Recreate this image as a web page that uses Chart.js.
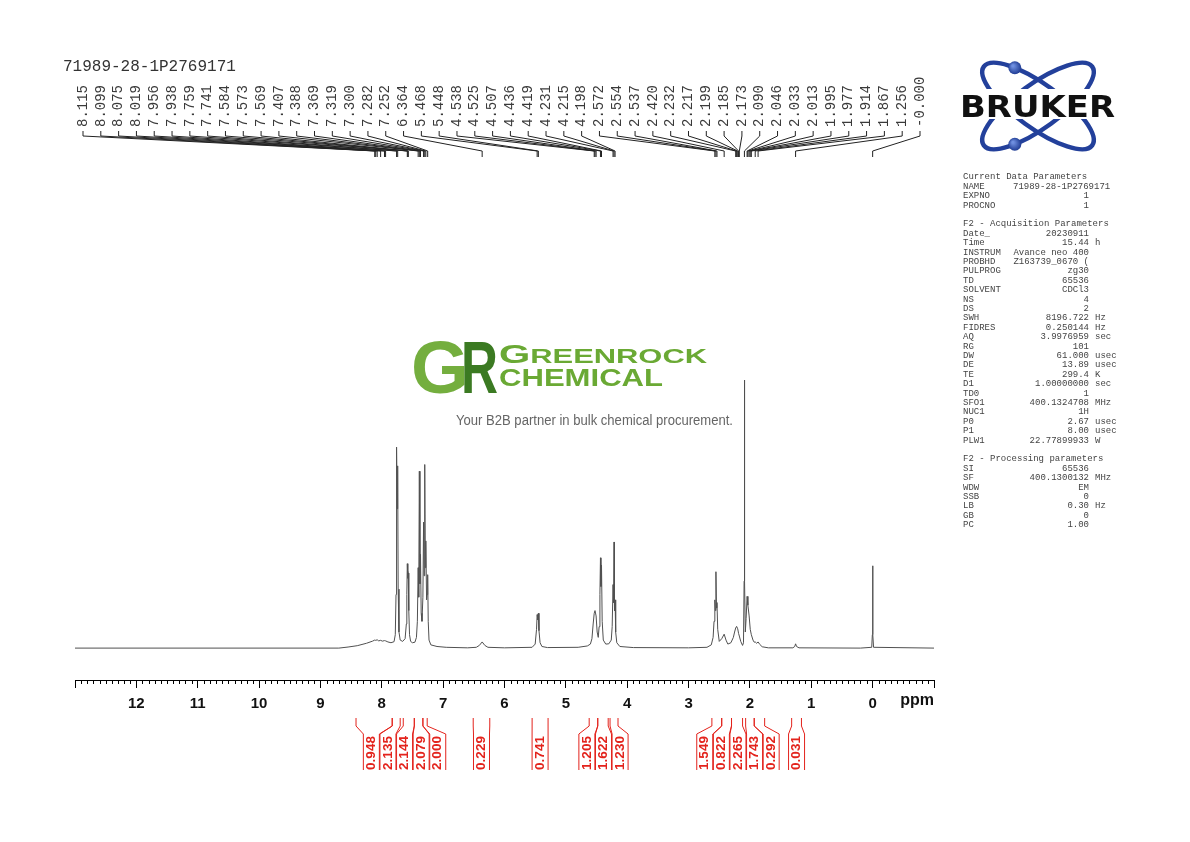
<!DOCTYPE html>
<html>
<head>
<meta charset="utf-8">
<script src="https://cdn.jsdelivr.net/npm/chart.js@4.4.1/dist/chart.umd.min.js"></script>
<style>
  html, body { margin: 0; padding: 0; background: #fff; }
  canvas { display: block; }
</style>
</head>
<body>
<canvas id="nmr" width="1190" height="842"></canvas>
<script>
const sampleName = '71989-28-1P2769171';

// spectrum trace: ppm / relative intensity (2.090 singlet = 100)
const specPpm = [13.0, 8.70, 8.55, 8.40, 8.25, 8.15, 8.115, 8.099, 8.075, 8.05, 8.019, 7.99, 7.956, 7.938, 7.90, 7.85, 7.80,
  7.78, 7.768, 7.759, 7.750, 7.741, 7.733, 7.72, 7.70, 7.66,
  7.62, 7.60, 7.592, 7.584, 7.578, 7.573, 7.569, 7.56, 7.548, 7.53, 7.50, 7.46,
  7.435, 7.42, 7.407, 7.398, 7.388, 7.378, 7.369, 7.358, 7.345, 7.33, 7.319, 7.310, 7.300, 7.291, 7.282, 7.27, 7.262, 7.252, 7.243, 7.23, 7.20, 7.10, 6.95,
  6.60, 6.46, 6.41, 6.364, 6.32, 6.27, 6.00,
  5.55, 5.50, 5.478, 5.468, 5.458, 5.448, 5.438, 5.42, 5.39, 5.30,
  4.80, 4.65, 4.60, 4.575, 4.555, 4.538, 4.525, 4.507, 4.49, 4.472, 4.458, 4.445, 4.436, 4.428, 4.419, 4.408, 4.39, 4.35,
  4.30, 4.26, 4.245, 4.231, 4.223, 4.215, 4.207, 4.198, 4.188, 4.17, 4.12, 3.90, 3.00,
  2.70, 2.63, 2.60, 2.585, 2.572, 2.563, 2.554, 2.545, 2.537, 2.525, 2.50, 2.46, 2.42, 2.39, 2.36,
  2.31, 2.27, 2.25, 2.232, 2.217, 2.199, 2.185, 2.173, 2.15, 2.12, 2.105, 2.095, 2.090, 2.085, 2.075,
  2.062, 2.046, 2.033, 2.013, 1.995, 1.977, 1.95, 1.93, 1.914, 1.89, 1.867, 1.84, 1.80, 1.70,
  1.30, 1.27, 1.256, 1.24, 1.20, 0.20, 0.015, 0.005, 0.000, -0.005, -0.015, -1.0];
const specInt = [0, 0, 0.4, 0.9, 1.8, 2.6, 3.0, 2.9, 3.1, 2.7, 2.9, 2.6, 2.8, 2.7, 2.3, 2.0, 2.4,
  5, 20, 75, 52, 68, 22, 6, 3, 2.5,
  3.5, 9, 20, 31.5, 26, 29, 28, 14, 5, 2.5, 2, 2.2,
  4, 10, 30, 19, 66, 24, 35, 13, 10, 19, 47, 27, 68.5, 30, 40, 18, 20, 27.4, 10, 3, 1.2, 0.6, 0.3,
  0.1, 0.3, 1.0, 2.3, 1.0, 0.3, 0.1,
  0.3, 1.5, 7, 12.5, 10.5, 13, 6.5, 2, 0.6, 0.2,
  0.3, 0.8, 1.5, 3.5, 9, 13, 14, 12, 6, 4, 8, 20, 33.7, 23, 31, 10, 3, 1.5,
  1.6, 3, 8, 23.7, 17, 39.6, 14, 18, 6, 2, 0.6, 0.2, 0.1,
  0.3, 1.2, 4, 10, 18, 14, 28.5, 15, 17, 7, 2.5, 3.5, 5.2, 3, 1.5,
  2, 4, 6, 7.5, 8.1, 7.2, 5.5, 4.5, 2.5, 1, 2, 25, 100, 25, 6,
  11, 19.3, 16, 12, 7, 5, 3, 2.2, 2.3, 1.8, 2.3, 1.4, 0.5, 0.1,
  0.1, 0.6, 1.6, 0.6, 0.1, 0, 0.3, 5, 30.7, 5, 0.3, 0];

// peak picking
const peakLabels = ['8.115', '8.099', '8.075', '8.019', '7.956', '7.938', '7.759', '7.741', '7.584', '7.573', '7.569',
  '7.407', '7.388', '7.369', '7.319', '7.300', '7.282', '7.252', '6.364', '5.468', '5.448', '4.538', '4.525', '4.507',
  '4.436', '4.419', '4.231', '4.215', '4.198', '2.572', '2.554', '2.537', '2.420', '2.232', '2.217', '2.199', '2.185',
  '2.173', '2.090', '2.046', '2.033', '2.013', '1.995', '1.977', '1.914', '1.867', '1.256', '-0.000'];

// integrals
const intFrom = [8.42, 7.83, 7.65, 7.47, 7.33, 6.51, 5.55, 4.62, 4.48, 4.28, 2.62, 2.46, 2.30, 2.07, 1.93, 1.32];
const intTo   = [7.83, 7.70, 7.47, 7.33, 7.26, 6.24, 5.29, 4.48, 4.31, 4.15, 2.46, 2.30, 2.12, 1.93, 1.76, 1.16];
const intVal  = ['0.948', '2.135', '2.144', '2.079', '2.000', '0.229', '0.741', '1.205', '1.622', '1.230',
  '1.549', '0.822', '2.265', '1.743', '0.292', '0.031'];

// acquisition / processing parameters
const paramNames = ['Current Data Parameters', 'NAME', 'EXPNO', 'PROCNO', '',
  'F2 - Acquisition Parameters', 'Date_', 'Time', 'INSTRUM', 'PROBHD', 'PULPROG', 'TD', 'SOLVENT', 'NS', 'DS',
  'SWH', 'FIDRES', 'AQ', 'RG', 'DW', 'DE', 'TE', 'D1', 'TD0', 'SFO1', 'NUC1', 'P0', 'P1', 'PLW1', '',
  'F2 - Processing parameters', 'SI', 'SF', 'WDW', 'SSB', 'LB', 'GB', 'PC'];
const paramValues = ['', sampleName, '1', '1', '',
  '', '20230911', '15.44', 'Avance neo 400', 'Z163739_0670 (', 'zg30', '65536', 'CDCl3', '4', '2',
  '8196.722', '0.250144', '3.9976959', '101', '61.000', '13.89', '299.4', '1.00000000', '1', '400.1324708', '1H', '2.67', '8.00', '22.77899933', '',
  '', '65536', '400.1300132', 'EM', '0', '0.30', '0', '1.00'];
const paramUnits = ['', '', '', '', '',
  '', '', 'h', '', '', '', '', '', '', '',
  'Hz', 'Hz', 'sec', '', 'usec', 'usec', 'K', 'sec', '', 'MHz', '', 'usec', 'usec', 'W', '',
  '', '', 'MHz', '', '', 'Hz', '', ''];

const MONO = "'Liberation Mono', 'DejaVu Sans Mono', monospace";
const SANS = "'Liberation Sans', Arial, sans-serif";

function fitText(ctx, text, x, y, width) {
  const w = ctx.measureText(text).width;
  ctx.save();
  ctx.translate(x, y);
  ctx.scale(width / w, 1);
  ctx.fillText(text, 0, 0);
  ctx.restore();
}

function spreadLabels(centers, gap) {
  let groups = centers.map((c, i) => ({ items: [i], mean: c }));
  let merged = true;
  while (merged) {
    merged = false;
    for (let g = 0; g < groups.length - 1; g++) {
      const a = groups[g], b = groups[g + 1];
      const aRight = a.mean + (a.items.length - 1) * gap / 2;
      const bLeft = b.mean - (b.items.length - 1) * gap / 2;
      if (bLeft - aRight < gap) {
        const items = a.items.concat(b.items);
        const mean = items.reduce((s, i) => s + centers[i], 0) / items.length;
        groups.splice(g, 2, { items, mean });
        merged = true;
        break;
      }
    }
  }
  const out = [];
  groups.forEach(gr => gr.items.forEach((i, k) => {
    out[i] = gr.mean + (k - (gr.items.length - 1) / 2) * gap;
  }));
  return out;
}

function drawWatermark(ctx) {
  ctx.save();
  ctx.textBaseline = 'alphabetic';
  ctx.textAlign = 'left';
  ctx.font = 'bold 74px ' + SANS;
  ctx.fillStyle = '#74ae3e';
  fitText(ctx, 'G', 411, 393, 58);
  ctx.fillStyle = '#3b7a22';
  fitText(ctx, 'R', 461, 393, 37);

  ctx.fillStyle = '#6aa934';
  ctx.font = 'bold 26px ' + SANS;
  const wG = ctx.measureText('G').width;
  ctx.font = 'bold 20px ' + SANS;
  const wRest = ctx.measureText('REENROCK').width;
  const sx = 208 / (wG + wRest);
  ctx.save();
  ctx.translate(499, 363);
  ctx.scale(sx, 1);
  ctx.font = 'bold 26px ' + SANS;
  ctx.fillText('G', 0, 0);
  ctx.font = 'bold 20px ' + SANS;
  ctx.fillText('REENROCK', wG, 0);
  ctx.restore();
  ctx.font = 'bold 24px ' + SANS;
  fitText(ctx, 'CHEMICAL', 499, 386, 164);

  ctx.fillStyle = '#666';
  ctx.font = '14px ' + SANS;
  ctx.textBaseline = 'middle';
  fitText(ctx, 'Your B2B partner in bulk chemical procurement.', 456, 421, 277);
  ctx.restore();
}

function drawBruker(ctx) {
  const cx = 1038, cy = 106, a = 67, b = 22, th = 36 * Math.PI / 180;
  ctx.save();
  ctx.strokeStyle = '#23409b';
  ctx.lineWidth = 4.5;
  [th, -th].forEach(r => {
    ctx.beginPath();
    ctx.ellipse(cx, cy, a, b, r, 0, Math.PI * 2);
    ctx.stroke();
  });
  // electrons on the two orbits
  [[th, -1], [-th, 1]].forEach(([r, s]) => {
    const t = s * 128 * Math.PI / 180;
    const ex = a * Math.cos(t), ey = b * Math.sin(t);
    const px = cx + ex * Math.cos(r) - ey * Math.sin(r);
    const py = cy + ex * Math.sin(r) + ey * Math.cos(r);
    const g = ctx.createRadialGradient(px - 2, py - 2, 1, px, py, 7);
    g.addColorStop(0, '#6f8fe0');
    g.addColorStop(1, '#1b378f');
    ctx.fillStyle = g;
    ctx.beginPath();
    ctx.arc(px, py, 6.5, 0, Math.PI * 2);
    ctx.fill();
  });
  ctx.fillStyle = '#fff';
  ctx.fillRect(956, 89, 164, 30);
  ctx.fillStyle = '#111';
  ctx.font = 'bold 30px "DejaVu Sans", ' + SANS;
  ctx.textBaseline = 'alphabetic';
  fitText(ctx, 'BRUKER', 960, 117, 155);
  ctx.restore();
}

function drawParams(ctx) {
  ctx.save();
  ctx.font = '9px ' + MONO;
  ctx.fillStyle = '#444';
  ctx.textBaseline = 'middle';
  paramNames.forEach((name, i) => {
    const y = 177 + i * 9.4;
    ctx.textAlign = 'left';
    ctx.fillText(name, 963, y);
    const v = paramValues[i];
    if (v) {
      if (v.length > 14) {
        ctx.fillText(v, 1013, y);
      } else {
        ctx.textAlign = 'right';
        ctx.fillText(v, 1089, y);
      }
    }
    if (paramUnits[i]) {
      ctx.textAlign = 'left';
      ctx.fillText(paramUnits[i], 1095, y);
    }
  });
  ctx.restore();
}

const decor = {
  id: 'decor',
  beforeDatasetsDraw(chart) {
    drawWatermark(chart.ctx);
  },
  afterDraw(chart) {
    const ctx = chart.ctx;
    const xs = chart.scales.x;
    const bottom = chart.chartArea.bottom;

    // minor ticks every 0.1 ppm
    ctx.save();
    ctx.strokeStyle = '#000';
    ctx.lineWidth = 1;
    ctx.beginPath();
    for (let k = -10; k <= 130; k++) {
      if (k % 10 === 0) continue;
      const x = Math.round(xs.getPixelForValue(k / 10)) + 0.5;
      ctx.moveTo(x, bottom);
      ctx.lineTo(x, bottom + 4);
    }
    ctx.stroke();
    ctx.font = 'bold 16px ' + SANS;
    ctx.fillStyle = '#111';
    ctx.textAlign = 'right';
    ctx.textBaseline = 'middle';
    ctx.fillText('ppm', xs.right, bottom + 21);
    ctx.restore();

    // title
    ctx.save();
    ctx.font = '16px ' + MONO;
    ctx.fillStyle = '#333';
    ctx.textBaseline = 'middle';
    ctx.fillText(sampleName, 63, 67);
    ctx.restore();

    // peak labels with leader lines
    ctx.save();
    const n = peakLabels.length;
    const lx0 = 83, lx1 = 920;
    ctx.font = '14px ' + MONO;
    ctx.fillStyle = '#3a3a3a';
    ctx.strokeStyle = '#222';
    ctx.lineWidth = 1;
    ctx.textBaseline = 'middle';
    ctx.textAlign = 'left';
    peakLabels.forEach((lab, i) => {
      const lx = lx0 + (lx1 - lx0) * i / (n - 1);
      const px = xs.getPixelForValue(parseFloat(lab));
      ctx.save();
      ctx.translate(lx, 127);
      ctx.rotate(-Math.PI / 2);
      ctx.fillText(lab, 0, 0);
      ctx.restore();
      ctx.beginPath();
      ctx.moveTo(lx, 131);
      ctx.lineTo(lx, 136);
      ctx.lineTo(px, 151);
      ctx.lineTo(px, 157);
      ctx.stroke();
    });
    ctx.restore();

    // integrals
    ctx.save();
    const x1s = intFrom.map(v => xs.getPixelForValue(v));
    const x2s = intTo.map(v => xs.getPixelForValue(v));
    const mids = x1s.map((x, i) => (x + x2s[i]) / 2);
    const lxs = spreadLabels(mids, 16.6);
    ctx.strokeStyle = '#e3231c';
    ctx.fillStyle = '#e3231c';
    ctx.lineWidth = 1;
    ctx.font = 'bold 13.5px ' + SANS;
    ctx.textAlign = 'center';
    ctx.textBaseline = 'middle';
    intVal.forEach((val, i) => {
      const lx = lxs[i];
      [[x1s[i], lx - 8], [x2s[i], lx + 8]].forEach(([xt, xb]) => {
        ctx.beginPath();
        ctx.moveTo(xt, 718);
        ctx.lineTo(xt, 726);
        ctx.lineTo(xb, 734);
        ctx.lineTo(xb, 770);
        ctx.stroke();
      });
      ctx.save();
      ctx.translate(lx, 753);
      ctx.rotate(-Math.PI / 2);
      ctx.fillText(val, 0, 0);
      ctx.restore();
    });
    ctx.restore();

    drawBruker(ctx);
    drawParams(ctx);
  }
};

new Chart(document.getElementById('nmr').getContext('2d'), {
  type: 'line',
  data: {
    datasets: [{
      data: specPpm.map((p, i) => ({ x: p, y: specInt[i] })),
      borderColor: '#505050',
      borderWidth: 1,
      pointRadius: 0,
      tension: 0,
      fill: false
    }]
  },
  options: {
    responsive: false,
    animation: false,
    layout: { padding: { top: 163, left: 75, right: 256, bottom: 122 } },
    scales: {
      x: {
        type: 'linear',
        min: -1,
        max: 13,
        reverse: true,
        border: { display: true, color: '#000', width: 1 },
        grid: { drawOnChartArea: false, drawTicks: true, tickLength: 8, color: '#000' },
        ticks: {
          stepSize: 1,
          autoSkip: false,
          maxRotation: 0,
          padding: 7,
          color: '#111',
          font: { family: SANS, size: 15, weight: 'bold' },
          callback: v => (v < 0 || v > 12) ? '' : String(v)
        }
      },
      y: { display: false, min: -11.9, max: 181 }
    },
    plugins: {
      legend: { display: false },
      tooltip: { enabled: false }
    }
  },
  plugins: [decor]
});
</script>
</body>
</html>
